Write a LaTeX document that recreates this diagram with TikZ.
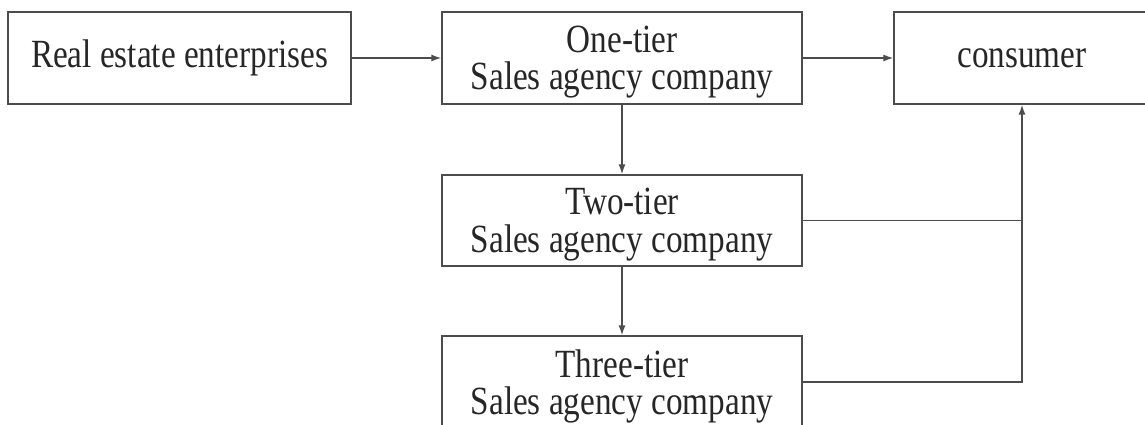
\documentclass[tikz,border=0pt]{standalone}
\usepackage{fontspec}
\setmainfont[FakeStretch=0.83]{Liberation Serif}
\usetikzlibrary{arrows.meta}
\begin{document}
\begin{tikzpicture}[x=1pt,y=-1pt,
  box/.style={draw=black!70, line width=1.4pt, inner sep=0pt, align=center,
    text=black!85, font=\fontsize{40}{37.5}\selectfont},
  twoline/.style={text depth=0pt},
  conn/.style={draw=black!70, line width=1.4pt},
  arr/.style={conn, -{Latex[length=10pt,width=7pt]}}]
\useasboundingbox (0,0) rectangle (1145,425);
\node[box, minimum width=343pt, minimum height=92pt] (real) at (179.5,58) {Real estate enterprises};
\node[box, twoline, minimum width=360pt, minimum height=92pt] (one) at (622,58) {One-tier\\Sales agency company};
\node[box, minimum width=256pt, minimum height=92pt] (cons) at (1022,58) {consumer};
\node[box, twoline, minimum width=360pt, minimum height=91pt] (two) at (622,220.5) {Two-tier\\Sales agency company};
\node[box, twoline, minimum width=360pt, minimum height=92pt] (three) at (622,382) {Three-tier\\Sales agency company};
\draw[arr] (real) -- (one);
\draw[arr] (one) -- (cons);
\draw[arr] (one) -- (two);
\draw[arr] (two) -- (three);
\coordinate (j2) at (two.east -| cons.south);
\draw[conn] (two.east) -- (j2);
\draw[arr] (three.east) -| (cons.south);
\end{tikzpicture}
\end{document}
